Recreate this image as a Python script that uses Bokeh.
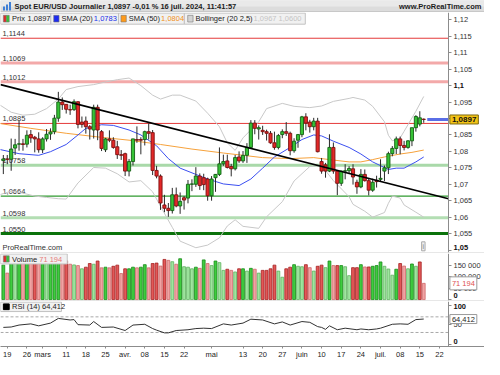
import numpy as np
from bokeh.plotting import figure
from bokeh.layouts import column
from bokeh.models import (Range1d, FixedTicker, Span, Label, ColumnDataSource,
                          CustomJSTickFormatter)
from bokeh.core.properties import value
from bokeh.embed import file_html
from bokeh.resources import INLINE

# ---------------------------------------------------------------- data
first_bar = "2024-02-16"        # first daily bar drawn
origin = "2024-02-19"           # x index 0
prev_close = 1.0772             # close of 2024-02-15

opens = [1.0772,
         1.0777, 1.0776, 1.0810, 1.0822, 1.0823,
         1.0822, 1.0851, 1.0843, 1.0838, 1.0805,
         1.0838, 1.0853, 1.0860, 1.0901, 1.0950,
         1.0943, 1.0927, 1.0927, 1.0951, 1.0889,
         1.0892, 1.0875, 1.0865, 1.0934, 1.0860,
         1.0805, 1.0838, 1.0834, 1.0814, 1.0790,
         1.0793, 1.0740, 1.0769, 1.0836, 1.0836,
         1.0836, 1.0860, 1.0857, 1.0742, 1.0725,
         1.0637, 1.0627, 1.0620, 1.0668, 1.0634,
         1.0659, 1.0658, 1.0700, 1.0700, 1.0725,
         1.0720, 1.0716, 1.0665, 1.0720, 1.0730,
         1.0762, 1.0771, 1.0754, 1.0747, 1.0783,
         1.0771, 1.0788, 1.0812, 1.0886, 1.0868,
         1.0864, 1.0860, 1.0855, 1.0826, 1.0812,
         1.0851, 1.0860, 1.0855, 1.0802, 1.0834,
         1.0851, 1.0905, 1.0889, 1.0875, 1.0892,
         1.0769, 1.0759, 1.0740, 1.0812, 1.0740,
         1.0703, 1.0740, 1.0741, 1.0747, 1.0706,
         1.0692, 1.0730, 1.0711, 1.0682, 1.0712,
         1.0715, 1.0740, 1.0750, 1.0793, 1.0809,
         1.0838, 1.0818, 1.0812, 1.0832, 1.0872,
         1.0883, 1.0898]
highs = [1.0789,
         1.0789, 1.0839, 1.0838, 1.0893, 1.0838,
         1.0864, 1.0865, 1.0847, 1.0858, 1.0843,
         1.0868, 1.0870, 1.0911, 1.0981, 1.0964,
         1.0944, 1.0942, 1.0958, 1.0952, 1.0906,
         1.0906, 1.0880, 1.0942, 1.0942, 1.0865,
         1.0841, 1.0864, 1.0843, 1.0832, 1.0804,
         1.0796, 1.0777, 1.0838, 1.0876, 1.0843,
         1.0863, 1.0885, 1.0865, 1.0756, 1.0730,
         1.0668, 1.0643, 1.0689, 1.0690, 1.0675,
         1.0664, 1.0713, 1.0715, 1.0752, 1.0733,
         1.0732, 1.0720, 1.0725, 1.0731, 1.0812,
         1.0790, 1.0790, 1.0762, 1.0789, 1.0800,
         1.0801, 1.0825, 1.0895, 1.0895, 1.0879,
         1.0878, 1.0866, 1.0862, 1.0860, 1.0853,
         1.0867, 1.0889, 1.0860, 1.0840, 1.0853,
         1.0908, 1.0916, 1.0896, 1.0902, 1.0902,
         1.0780, 1.0765, 1.0852, 1.0827, 1.0743,
         1.0741, 1.0761, 1.0755, 1.0761, 1.0714,
         1.0746, 1.0745, 1.0718, 1.0717, 1.0726,
         1.0776, 1.0757, 1.0799, 1.0816, 1.0845,
         1.0845, 1.0832, 1.0834, 1.0871, 1.0910,
         1.0922, 1.0900]
lows = [1.0731,
        1.0761, 1.0741, 1.0789, 1.0802, 1.0802,
        1.0812, 1.0826, 1.0797, 1.0796, 1.0795,
        1.0830, 1.0835, 1.0852, 1.0890, 1.0926,
        1.0915, 1.0911, 1.0923, 1.0870, 1.0872,
        1.0854, 1.0836, 1.0839, 1.0834, 1.0801,
        1.0798, 1.0828, 1.0808, 1.0777, 1.0774,
        1.0725, 1.0724, 1.0757, 1.0826, 1.0791,
        1.0818, 1.0836, 1.0728, 1.0718, 1.0622,
        1.0615, 1.0601, 1.0611, 1.0630, 1.0610,
        1.0623, 1.0642, 1.0679, 1.0692, 1.0683,
        1.0682, 1.0650, 1.0650, 1.0677, 1.0725,
        1.0756, 1.0748, 1.0724, 1.0742, 1.0765,
        1.0765, 1.0765, 1.0809, 1.0852, 1.0836,
        1.0850, 1.0833, 1.0823, 1.0805, 1.0806,
        1.0840, 1.0847, 1.0788, 1.0796, 1.0811,
        1.0843, 1.0864, 1.0857, 1.0864, 1.0797,
        1.0732, 1.0720, 1.0737, 1.0732, 1.0667,
        1.0695, 1.0715, 1.0731, 1.0699, 1.0671,
        1.0688, 1.0708, 1.0666, 1.0677, 1.0690,
        1.0709, 1.0710, 1.0731, 1.0785, 1.0792,
        1.0791, 1.0803, 1.0808, 1.0816, 1.0860,
        1.0876, 1.0887]
closes = [1.0777,
          1.0776, 1.0807, 1.0820, 1.0823, 1.0821,
          1.0849, 1.0841, 1.0838, 1.0805, 1.0838,
          1.0852, 1.0859, 1.0901, 1.0950, 1.0942,
          1.0928, 1.0926, 1.0951, 1.0882, 1.0882,
          1.0875, 1.0868, 1.0934, 1.0865, 1.0809,
          1.0838, 1.0834, 1.0812, 1.0790, 1.0788,
          1.0740, 1.0769, 1.0838, 1.0834, 1.0834,
          1.0860, 1.0855, 1.0742, 1.0725, 1.0643,
          1.0627, 1.0620, 1.0668, 1.0634, 1.0648,
          1.0652, 1.0700, 1.0701, 1.0725, 1.0696,
          1.0699, 1.0665, 1.0716, 1.0730, 1.0762,
          1.0769, 1.0751, 1.0747, 1.0781, 1.0771,
          1.0788, 1.0812, 1.0886, 1.0870, 1.0872,
          1.0860, 1.0855, 1.0826, 1.0812, 1.0848,
          1.0860, 1.0855, 1.0802, 1.0831, 1.0851,
          1.0905, 1.0886, 1.0875, 1.0892, 1.0799,
          1.0740, 1.0740, 1.0812, 1.0740, 1.0703,
          1.0740, 1.0741, 1.0748, 1.0722, 1.0692,
          1.0730, 1.0711, 1.0682, 1.0706, 1.0708,
          1.0718, 1.0750, 1.0793, 1.0809, 1.0838,
          1.0818, 1.0812, 1.0832, 1.0872, 1.0906,
          1.0902, 1.0897]
volumes_k = [151, 116,
             182, 172, 176, 165, 170, 168, 178, 166, 175, 162, 171, 176, 185, 168, 170,
             155, 152, 149, 135, 142, 158, 155, 169, 139, 142, 139, 146, 151, 114, 135,
             135, 142, 139, 142, 153, 139, 158, 160, 147, 176, 172, 166, 155, 179, 144,
             142, 135, 142, 137, 174, 158, 149, 169, 162, 128, 133, 128, 121, 135,
             135, 125, 137, 133, 116, 128, 128, 135, 151, 125, 98, 135, 142, 153, 146,
             144, 153, 140, 125, 146, 151, 140, 169, 149, 149, 149, 144, 105, 140, 140,
             153, 143, 143, 146, 149, 165, 146, 134, 107, 133, 158, 147, 135, 156, 146,
             165, 71.194]

sma20_idx = [-2, 3, 8, 11, 15, 18, 20, 24, 27, 31, 34, 38, 41, 44, 48, 51, 55, 59,
             62, 65, 68, 72, 75, 78, 80, 83, 87, 90, 93, 97, 99, 101, 104, 106]
sma20_val = [1.0806, 1.0793, 1.0788, 1.0799, 1.0821, 1.0850, 1.0870, 1.0881, 1.0879,
             1.0865, 1.0850, 1.0817, 1.0778, 1.0749, 1.0730, 1.0716, 1.0701, 1.0696,
             1.0716, 1.0749, 1.0783, 1.0812, 1.0836, 1.0850, 1.0847, 1.0831, 1.0812,
             1.0792, 1.0768, 1.0745, 1.0749, 1.0749, 1.0768, 1.0783]
sma50_idx = [-2, 6, 15, 23, 31, 39, 47, 55, 60, 65, 72, 78, 82, 87, 90, 93, 96, 100,
             103, 106]
sma50_val = [1.0885, 1.0870, 1.0855, 1.0844, 1.0834, 1.0821, 1.0807, 1.0795, 1.0788,
             1.0781, 1.0778, 1.0781, 1.0775, 1.0768, 1.0768, 1.0775, 1.0783, 1.0792,
             1.0797, 1.0804]
bb_idx = [-2, 1, 4, 7, 10, 13, 15, 18, 22, 25, 28, 31, 34, 37, 39, 42, 44, 48, 51, 54,
          56, 58, 60, 64, 66, 70, 73, 77, 80, 83, 87, 88, 91, 93, 96, 97, 98, 100, 101,
          104, 106]
bb_upper = [1.0942, 1.0919, 1.0910, 1.0913, 1.0930, 1.0959, 1.0988, 1.0997, 1.1003,
            1.1011, 1.1018, 1.1023, 1.1000, 1.0971, 1.0959, 1.0971, 1.0971, 1.0953,
            1.0916, 1.0875, 1.0826, 1.0803, 1.0841, 1.0890, 1.0930, 1.0946, 1.0937,
            1.0933, 1.0938, 1.0952, 1.0961, 1.0964, 1.0956, 1.0937, 1.0890, 1.0849,
            1.0832, 1.0841, 1.0861, 1.0922, 1.0967]
bb_lower = [1.0668, 1.0679, 1.0673, 1.0664, 1.0660, 1.0656, 1.0655, 1.0704, 1.0751,
            1.0749, 1.0732, 1.0707, 1.0711, 1.0677, 1.0633, 1.0569, 1.0527, 1.0507,
            1.0515, 1.0537, 1.0573, 1.0592, 1.0572, 1.0566, 1.0601, 1.0647, 1.0710,
            1.0754, 1.0757, 1.0711, 1.0662, 1.0639, 1.0618, 1.0600, 1.0614, 1.0642,
            1.0664, 1.0658, 1.0637, 1.0615, 1.0600]
rsi_idx = [-1, 1, 3, 6, 8, 11, 13, 16, 17, 18, 21, 22, 24, 27, 30, 32, 35, 37, 38, 40,
           41, 43, 46, 48, 50, 52, 55, 57, 60, 62, 65, 68, 70, 72, 75, 77, 79, 80, 81,
           82, 84, 86, 89, 90, 92, 94, 95, 98, 100, 102, 104, 106]
rsi_val = [43, 44, 49, 52, 47, 54, 66, 62, 63, 50, 49, 58, 43, 44, 35, 49, 51, 40, 36,
           29, 29, 35, 37, 40, 41, 40, 52, 49, 54, 64, 62, 52, 57, 49, 58, 56, 45, 43,
           38, 47, 37, 41, 37, 39, 37, 39, 41, 51, 52, 51, 63, 64.412]

levels = [1.1144, 1.1069, 1.1012, 1.0885, 1.0758, 1.0664, 1.0598, 1.0550]
level_labels = ["1,1144", "1,1069", "1,1012", "1,0885", "1,0758", "1,0664", "1,0598",
                "1,0550"]
# trend line as read at the left and right edges of the price panel
trend_idx = [-1.72, 112.3]
trend_val = [1.1003, 1.0656]
rsi_bands = [70, 30]

price_ticks = [1.05, 1.055, 1.06, 1.065, 1.07, 1.075, 1.08, 1.085, 1.09, 1.095, 1.1,
               1.105, 1.11, 1.115, 1.12]
price_bold = [1.05, 1.1]
vol_ticks = [0, 50000, 100000, 150000]
vol_bold = [0]
rsi_ticks = [0, 50, 100]
rsi_bold = [0, 100]

tick_dates = ["2024-02-19", "2024-02-26", "2024-03-01", "2024-03-11", "2024-03-18",
              "2024-03-25", "2024-04-01", "2024-04-08", "2024-04-15", "2024-04-22",
              "2024-05-01", "2024-05-13", "2024-05-20", "2024-05-27", "2024-06-03",
              "2024-06-10", "2024-06-17", "2024-06-24", "2024-07-01", "2024-07-08",
              "2024-07-15", "2024-07-22"]
tick_labels = ["19", "26", "mars", "11", "18", "25", "avr.", "08", "15", "22", "mai",
               "13", "20", "27", "juin", "10", "17", "24", "juil.", "08", "15", "22"]

title_text = "Spot EUR/USD Journalier 1,0897 -0,01 % 16 juil. 2024, 11:41:57"
site_text = "www.ProRealTime.com"
sma20_last, sma50_last = 1.0783, 1.0804
bb_up_last, bb_lo_last = 1.0967, 1.0600
rsi_last = 64.412

# ---------------------------------------------------------------- helpers
FONT = value("Liberation Sans")
FN = "Liberation Sans"
W = 484                        # whole width; frames span all of it
FW = 448                       # width of the data area (left of the value axis)
X0, X1 = -1.72, 112.3          # x range of the data area
X1E = X0 + (X1 - X0) * W / FW  # x range end including the axis column
XR = Range1d(X0, X1E)
DXPX = (X1 - X0) / FW          # one screen pixel in x units


def fr(v, n=4):
    return f"{v:.{n}f}".replace(".", ",")


def fprice(t):
    return f"{t:.3f}".rstrip("0").rstrip(".").replace(".", ",")


def fvol(t):
    return f"{int(round(t)):,}".replace(",", " ")


def xpx(px):            # reference pixel column -> x index
    return X0 + px * (X1 - X0) / 463.0


P_TOP, P_BOT = 1.12223, 1.04925
V_TOP, V_BOT = 202000, -4000
R_TOP, R_BOT = 109.3, -5.9


def ypx(py):
    return P_TOP - (py - 13) * (P_TOP - P_BOT) / 252.5


def yvol(py):
    return V_TOP - (py - 265.5) * (V_TOP - V_BOT) / 49.5


def yrsi(py):
    return R_TOP - (py - 315) * (R_TOP - R_BOT) / 47.0


def txt(p, x, y, s, color="#222222", size="7.5px", align="left", style="normal",
        baseline="middle", yoff=0):
    p.text(x=[x], y=[y], text=[s], text_font=FONT, text_font_size=size,
           text_color=color, text_align=align, text_baseline=baseline,
           text_font_style=style, y_offset=yoff)


def panel(h, y0, y1, ticks, bold, code, xaxis=False, sep=True):
    p = figure(frame_width=W, frame_height=h, x_range=XR, y_range=Range1d(y0, y1),
               tools="", toolbar_location=None, output_backend="svg",
               x_axis_location="below" if xaxis else None, y_axis_location="right",
               min_border_left=0, min_border_right=0, min_border_top=0,
               min_border_bottom=1 if sep else 0)
    p.grid.visible = False
    p.outline_line_color = None
    p.background_fill_color = "white"
    p.border_fill_color = "#9e9e9e" if sep else "white"
    ya = p.yaxis[0]
    ya.fixed_location = X1
    ya.ticker = FixedTicker(ticks=ticks)
    ya.formatter = CustomJSTickFormatter(
        args=dict(bold=bold),
        code="if (bold.some(b => Math.abs(b - tick) < 1e-9)) return '';" + code)
    ya.axis_line_color = "#8c8c8c"
    ya.major_tick_line_color = "#8c8c8c"
    ya.major_tick_out = 3
    ya.major_tick_in = 0
    ya.minor_tick_line_color = None
    ya.major_label_text_font = FN
    ya.major_label_text_font_size = "7.5px"
    ya.major_label_text_color = "#333333"
    ya.major_label_standoff = 2
    return p


def bold_tick(p, t, s, yoff):
    txt(p, X1 + 5 * DXPX, t, s, color="#111111", style="bold", yoff=yoff)


def value_box(p, y, s, color, fill, border, bold=False, size="7.5px"):
    p.add_layout(Label(x=X1 + 0.35, y=y, text=s, text_font=FN, text_font_size=size,
                       text_color=color, text_align="left", text_baseline="middle",
                       text_font_style="bold" if bold else "normal",
                       background_fill_color=fill, border_line_color=border,
                       padding=2))


def hline(p, yv, color, width, dash="solid"):
    p.segment(x0=[X0], y0=[yv], x1=[X1], y1=[yv], line_color=color, line_width=width,
              line_dash=dash)


n = len(closes)
dates = np.busday_offset(first_bar, np.arange(n), roll="forward")
idx = np.busday_count(origin, dates).astype(float)
o, h, l, c = map(np.array, (opens, highs, lows, closes))
vol = np.array(volumes_k) * 1000.0

# ---------------------------------------------------------------- header
hdr = figure(width=W, height=12, x_range=Range1d(0, W), y_range=Range1d(0, 12),
             tools="", toolbar_location=None, output_backend="svg",
             x_axis_location=None, y_axis_location=None, min_border=0)
hdr.grid.visible = False
hdr.outline_line_color = None
hdr.background_fill_color = "#dcdcdc"
hdr.border_fill_color = "#dcdcdc"
hdr.quad(left=[0], right=[W], bottom=[6], top=[12], fill_color="#e9e9e9", line_color=None)
hdr.add_layout(Span(location=0.3, dimension="width", line_color="#9c9c9c", line_width=1))
hdr.quad(left=[2.5, 5.5, 8.5], right=[4.5, 7.5, 10.5], bottom=[2, 2, 2],
         top=[6, 8, 10.5], fill_color="#3f7fd6", line_color=None)
txt(hdr, 14, 6, title_text, color="#1c1c1c", style="bold")
txt(hdr, W - 3, 6, site_text, color="#1c1c1c", style="bold", align="right")

# ---------------------------------------------------------------- price panel
price_code = ("let s = tick.toFixed(3).replace(/0+$/, ''); if (s.endsWith('.')) "
              "s = s.slice(0, -1); return s.replace('.', ',');")
pp = panel(240, P_BOT, P_TOP, price_ticks, price_bold, price_code)

lvl_style = [("#e43a3a", 1), ("#f3a9a9", 3), ("#f3a9a9", 3), ("#e43a3a", 1),
             ("#a9d9a9", 3), ("#2f9a2f", 1.3), ("#b3deb3", 3), ("#0b720b", 3)]
for lv, (col, lw) in zip(levels, lvl_style):
    hline(pp, lv, col, lw)
for lv, lab in zip(levels, level_labels):
    txt(pp, xpx(2), lv, lab, color="#333333", baseline="bottom", yoff=-2)

pp.line(bb_idx, bb_upper, line_color="#c8c8c8", line_width=1)
pp.line(bb_idx, bb_lower, line_color="#c8c8c8", line_width=1)
pp.line(sma50_idx, sma50_val, line_color="#f6a23c", line_width=1)
pp.line(sma20_idx, sma20_val, line_color="#3b4ff0", line_width=1)

up = c >= o
src = ColumnDataSource(dict(
    x=idx, low=l, high=h, top=np.maximum(o, c), bottom=np.minimum(o, c),
    fill=np.where(up, "#36c236", "#e42828"),
    line=np.where(up, "#145f14", "#7c1010")))
pp.segment(x0="x", y0="low", x1="x", y1="high", source=src, line_color="#2a2a2a",
           line_width=1)
pp.vbar(x="x", width=0.8, top="top", bottom="bottom", fill_color="fill",
        line_color="line", line_width=0.9, source=src)

pp.line(trend_idx, trend_val, line_color="black", line_width=1.6)
pp.segment(x0=[idx[-1] + 0.9], y0=[closes[-1]], x1=[X1], y1=[closes[-1]],
           line_color="#5a6ee6", line_width=3)

# legend row
edges = [0, 52, 122, 190, 315]
pp.quad(left=[xpx(a) for a in edges[:-1]], right=[xpx(b) for b in edges[1:]],
        top=ypx(13.6), bottom=ypx(25.3), fill_color="#f1f1f1", line_color="#c2c2c2")
icons = [(3, 6, "#e42828"), (6, 9, "#36c236"), (55, 60.5, "#1d2cf0"),
         (124.5, 130, "#ff9a1a"), (193.5, 199, "#d4d4d4")]
pp.quad(left=[xpx(a) for a, b, k in icons], right=[xpx(b) for a, b, k in icons],
        top=ypx(16), bottom=ypx(23), fill_color=[k for a, b, k in icons],
        line_color="#777777", line_width=0.6)
yl = ypx(19.5)
txt(pp, xpx(12), yl, "Prix")
txt(pp, xpx(28), yl, fr(closes[-1]))
txt(pp, xpx(63), yl, "SMA (20)")
txt(pp, xpx(96.5), yl, fr(sma20_last), color="#2030e8")
txt(pp, xpx(132.5), yl, "SMA (50)")
txt(pp, xpx(166), yl, fr(sma50_last), color="#f0901a")
txt(pp, xpx(201.5), yl, "Bollinger (20 2,5)")
txt(pp, xpx(261.5), yl, fr(bb_up_last) + " " + fr(bb_lo_last), color="#c4c4c4")

txt(pp, xpx(2), ypx(260.5), "ProRealTime.com", color="#333333")
pp.add_layout(Label(x=xpx(437), y=ypx(259), text="i", text_font=FN,
                    text_font_size="6.5px", text_color="#777777", text_align="center",
                    text_baseline="middle", background_fill_color="#eeeeee",
                    border_line_color="#aaaaaa", padding=1))
for t, yo in zip(price_bold, [-3, 0]):
    bold_tick(pp, t, fprice(t), yo)
value_box(pp, closes[-1], fr(closes[-1]), "#111111", "#f3c316", "#7d6a12", bold=True,
          size="8px")

# ---------------------------------------------------------------- volume panel
vol_code = r"return Math.round(tick).toString().replace(/\B(?=(\d{3})+(?!\d))/g, ' ');"
pv = panel(47, V_BOT, V_TOP, vol_ticks, vol_bold, vol_code)
prevs = np.concatenate([[prev_close], c[:-1]])
vup = c >= prevs
lighter = np.concatenate([[False], vol[1:] < vol[:-1]])
vfill = np.where(vup, np.where(lighter, "#9fe59f", "#3fcc3f"),
                 np.where(lighter, "#f0a3a3", "#e25858"))
vline = np.where(vup, np.where(lighter, "#5fb35f", "#178a17"),
                 np.where(lighter, "#cf6a6a", "#a51f1f"))
pv.vbar(x=idx, width=0.72, top=vol, bottom=0, fill_color=vfill, line_color=vline,
        line_width=0.8)
pv.quad(left=[xpx(0)], right=[xpx(69)], top=[yvol(266)], bottom=[yvol(276.5)],
        fill_color="#f1f1f1", line_color="#c2c2c2")
pv.quad(left=[xpx(3), xpx(6)], right=[xpx(6), xpx(9)], top=yvol(268),
        bottom=yvol(274.5), fill_color=["#e42828", "#36c236"], line_color="#777777",
        line_width=0.6)
txt(pv, xpx(12), yvol(271.3), "Volume")
txt(pv, xpx(40), yvol(271.3), fvol(vol[-1]), color="#e77a7a")
for t in vol_bold:
    bold_tick(pv, t, fvol(t), -4)
value_box(pv, vol[-1], fvol(vol[-1]), "#e05050", "white", "#9a9a9a")

# ---------------------------------------------------------------- RSI panel
pr = panel(45, R_BOT, R_TOP, rsi_ticks, rsi_bold,
           "return Math.round(tick).toString();", xaxis=True, sep=False)
for lv in rsi_bands:
    hline(pr, lv, "#a8a8a8", 1, "3 2")
pr.line(rsi_idx, rsi_val, line_color="#333333", line_width=1)
pr.quad(left=[xpx(0)], right=[xpx(63)], top=[yrsi(315.6)], bottom=[yrsi(325.5)],
        fill_color="#f1f1f1", line_color="#c2c2c2")
pr.quad(left=[xpx(3)], right=[xpx(9)], top=[yrsi(317.5)], bottom=[yrsi(323.5)],
        fill_color="black", line_color="black")
txt(pr, xpx(12), yrsi(320.5), "RSI (14) " + fr(rsi_last, 3))
for t, yo in zip(rsi_bold, [-2.6, 1]):
    bold_tick(pr, t, str(t), yo)
value_box(pr, rsi_last, fr(rsi_last, 3), "#222222", "white", "#9a9a9a")

tick_idx = np.busday_count(origin, tick_dates)
xa = pr.xaxis[0]
xa.ticker = FixedTicker(ticks=[int(t) for t in tick_idx])
xa.major_label_overrides = {int(t): lab for t, lab in zip(tick_idx, tick_labels)}
xa.axis_line_color = "#8c8c8c"
xa.major_tick_line_color = "#8c8c8c"
xa.major_tick_out = 2
xa.major_tick_in = 0
xa.minor_tick_line_color = None
xa.major_label_text_font = FN
xa.major_label_text_font_size = "7.5px"
xa.major_label_text_color = "#222222"
xa.major_label_standoff = 1

layout = column(hdr, pp, pv, pr, spacing=0)
open("out.html", "w").write(file_html(layout, INLINE))
